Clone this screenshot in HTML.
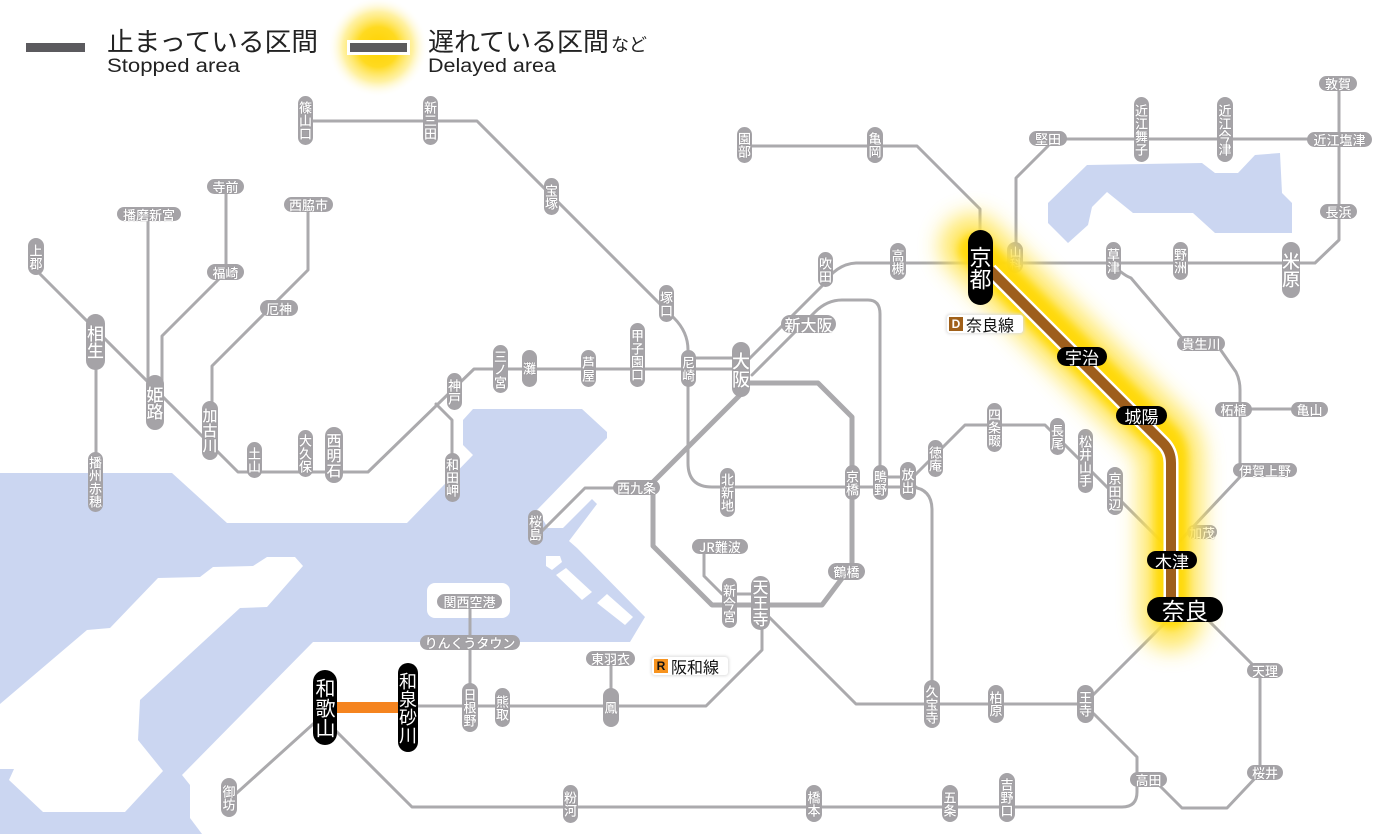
<!DOCTYPE html>
<html><head><meta charset="utf-8"><style>
html,body{margin:0;padding:0;background:#fff}
#c{position:relative;width:1400px;height:834px;overflow:hidden;background:#fff;font-family:"Liberation Sans","Noto Sans CJK JP",sans-serif}
svg{position:absolute;left:0;top:0}
.p{position:absolute;display:flex;align-items:center;justify-content:center;background:#a5a3a7;color:#fff;font-family:"Noto Sans CJK JP",sans-serif;font-weight:500;font-size:13px;line-height:1;border-radius:999px;white-space:nowrap;text-shadow:0 0 1px #7a787c}
.v{writing-mode:vertical-rl;text-orientation:upright}
.b{background:#000;text-shadow:none;font-weight:400}
.lab{position:absolute;background:#fff;box-shadow:0 0 3px 1px #ddd;border-radius:3px;display:flex;align-items:center;font-family:"Noto Sans CJK JP",sans-serif;font-size:16px;line-height:1;color:#111}
.lab i{font-style:normal;font-family:"Liberation Sans",sans-serif;font-weight:bold;font-size:12px;width:14px;height:14px;display:flex;align-items:center;justify-content:center;margin:0 3px 0 2px}
</style></head><body><div id="c">
<svg width="1400" height="834" viewBox="0 0 1400 834">
<polygon fill="#cbd6f1" points="0,473 172,473 227,523 407,523 473,455 463,445 463,420 473,409 582,409 607,432 607,438 537,510 548,528 563,528 592,499 597,504 569,541 577,548 645,617 630,642 313,642 182,775 190,785 190,818 202,834 0,834"/>
<polygon fill="#fff" points="0,704 87,630 110,628 158,578 200,577 213,567 253,566 267,557 295,557 303,566 267,607 240,608 140,700 138,740 163,771 125,812 43,812 9,780 14,769 0,769"/>
<polygon fill="#fff" points="546,556 560,556 562,562 552,570 546,566"/>
<polygon fill="#fff" points="556,575 566,568 592,592 582,600"/>
<polygon fill="#fff" points="597,603 607,594 633,617 625,625"/>
<rect x="427" y="583" width="83" height="35" rx="8" fill="#fff"/>
<polygon fill="#cbd6f1" points="1087,165 1202,163 1215,173 1238,173 1255,155 1280,153 1282,193 1292,203 1292,233 1215,233 1193,213 1133,213 1107,192 1092,207 1088,225 1068,243 1048,223 1048,203"/>
<g fill="none" stroke="#abaaad" stroke-width="3" stroke-linejoin="round" stroke-linecap="round">
<path d="M36,270 L238,472 H368 L474,369 H741"/>
<path d="M436,404 L452,420 V460"/>
<path d="M148,214 V390"/>
<path d="M226,187 V272 L162,336 V390"/>
<path d="M308,204 V270 L212,366 V420"/>
<path d="M96,342 V470"/>
<path d="M305,121 H477 L674,318 Q688,332 688,350 V463 Q688,487 712,487 H916"/>
<path d="M688,358 H741"/>
<path d="M745,363 L822,286 Q836,264 856,263 H1315 L1339,240 V83"/>
<path d="M752,375 L815,312 Q827,300 842,300 H868 Q880,300 880,314 V487"/>
<path d="M880,477 H908"/>
<path d="M637,488 H585 L540,533"/>
<path d="M704,547 V576 L722,594 H760"/>
<path d="M765,613 L856,704 H1085"/>
<path d="M762,630 V650 L706,706 H337"/>
<path d="M470,601 V707"/>
<path d="M611,658 V707"/>
<path d="M325,720 L412,807 H1122 Q1137,807 1137,792 V757 L1094,714"/>
<path d="M322,716 L229,800"/>
<path d="M1176,612 L1087,701"/>
<path d="M1200,612 L1260,672 V773 L1227,808 H1182 L1150,776"/>
<path d="M912,487 Q932,489 932,510 V704"/>
<path d="M913,477 L965,425 H1045 L1172,552"/>
<path d="M1121,272 Q1126,276 1131,278 L1182,338 L1220,349 L1236,372 Q1240,380 1240,390 V477 L1176,545"/>
<path d="M1240,409 H1300"/>
<path d="M745,146 H917 L980,209 V235"/>
<path d="M1016,258 V178 L1048,146"/>
<path d="M1048,139 H1339"/>
</g>
<path d="M741,383 H818 L852,417 V565 L822,605 H712 L653,546 V482 L741,394" fill="none" stroke="#abaaad" stroke-width="5" stroke-linejoin="round"/>
<rect x="337" y="702" width="61" height="11" fill="#f5841f"/>
<defs>
<radialGradient id="lg"><stop offset="0" stop-color="#ffd200"/><stop offset="0.4" stop-color="#ffda20"/><stop offset="0.7" stop-color="#ffe866" stop-opacity="0.6"/><stop offset="1" stop-color="#fff" stop-opacity="0"/></radialGradient>
</defs>
<circle cx="378" cy="47" r="50" fill="url(#lg)"/>
<rect x="26" y="43" width="59" height="9" fill="#5b5a5e"/>
<rect x="347" y="40" width="63" height="15" fill="#fff"/>
<rect x="350" y="43" width="57" height="9" fill="#5b5a5e"/>
<g fill="#222" font-family="'Liberation Sans','Noto Sans CJK JP',sans-serif">
<text x="107" y="51" font-size="26" textLength="211" lengthAdjust="spacingAndGlyphs">止まっている区間</text>
<text x="107" y="72" font-size="19" textLength="133" lengthAdjust="spacingAndGlyphs">Stopped area</text>
<text x="428" y="51" font-size="26" textLength="181" lengthAdjust="spacingAndGlyphs">遅れている区間</text>
<text x="611" y="51" font-size="18">など</text>
<text x="428" y="72" font-size="19" textLength="128" lengthAdjust="spacingAndGlyphs">Delayed area</text>
</g>
</svg>

<div class="p v" style="left:298px;top:96px;width:15px;height:49px">篠山口</div>
<div class="p v" style="left:423px;top:96px;width:15px;height:49px">新三田</div>
<div class="p v" style="left:28px;top:238px;width:16px;height:37px">上郡</div>
<div class="p v" style="left:247px;top:442px;width:15px;height:36px">土山</div>
<div class="p v" style="left:298px;top:430px;width:15px;height:47px">大久保</div>
<div class="p v" style="left:325px;top:427px;width:18px;height:56px;font-size:15px">西明石</div>
<div class="p v" style="left:88px;top:452px;width:15px;height:60px">播州赤穂</div>
<div class="p v" style="left:544px;top:178px;width:15px;height:37px">宝塚</div>
<div class="p v" style="left:659px;top:285px;width:15px;height:37px">塚口</div>
<div class="p v" style="left:681px;top:350px;width:15px;height:37px">尼崎</div>
<div class="p v" style="left:630px;top:323px;width:15px;height:64px">甲子園口</div>
<div class="p v" style="left:581px;top:350px;width:15px;height:37px">芦屋</div>
<div class="p v" style="left:522px;top:350px;width:15px;height:37px">灘</div>
<div class="p v" style="left:493px;top:345px;width:15px;height:48px">三ノ宮</div>
<div class="p v" style="left:447px;top:373px;width:15px;height:37px">神戸</div>
<div class="p v" style="left:445px;top:453px;width:15px;height:49px">和田岬</div>
<div class="p v" style="left:737px;top:127px;width:15px;height:36px">園部</div>
<div class="p v" style="left:867px;top:127px;width:16px;height:36px">亀岡</div>
<div class="p v" style="left:818px;top:252px;width:15px;height:35px">吹田</div>
<div class="p v" style="left:890px;top:243px;width:16px;height:37px">高槻</div>
<div class="p v" style="left:1007px;top:242px;width:16px;height:31px;font-size:12px">山科</div>
<div class="p v" style="left:1106px;top:242px;width:15px;height:38px">草津</div>
<div class="p v" style="left:1173px;top:242px;width:15px;height:38px">野洲</div>
<div class="p v" style="left:1134px;top:97px;width:15px;height:65px">近江舞子</div>
<div class="p v" style="left:1217px;top:97px;width:16px;height:65px">近江今津</div>
<div class="p v" style="left:720px;top:468px;width:15px;height:49px">北新地</div>
<div class="p v" style="left:845px;top:465px;width:15px;height:35px">京橋</div>
<div class="p v" style="left:873px;top:465px;width:15px;height:35px">鴫野</div>
<div class="p v" style="left:900px;top:462px;width:16px;height:38px">放出</div>
<div class="p v" style="left:928px;top:440px;width:15px;height:37px">徳庵</div>
<div class="p v" style="left:987px;top:403px;width:15px;height:49px">四条畷</div>
<div class="p v" style="left:1050px;top:418px;width:15px;height:37px">長尾</div>
<div class="p v" style="left:1078px;top:429px;width:15px;height:64px">松井山手</div>
<div class="p v" style="left:1107px;top:467px;width:16px;height:48px">京田辺</div>
<div class="p v" style="left:528px;top:510px;width:15px;height:35px">桜島</div>
<div class="p v" style="left:722px;top:578px;width:15px;height:50px">新今宮</div>
<div class="p v" style="left:924px;top:680px;width:16px;height:48px">久宝寺</div>
<div class="p v" style="left:988px;top:685px;width:16px;height:38px">柏原</div>
<div class="p v" style="left:1077px;top:685px;width:17px;height:38px">王寺</div>
<div class="p v" style="left:999px;top:773px;width:16px;height:49px">吉野口</div>
<div class="p v" style="left:942px;top:785px;width:16px;height:37px">五条</div>
<div class="p v" style="left:806px;top:785px;width:16px;height:37px">橋本</div>
<div class="p v" style="left:563px;top:785px;width:15px;height:38px">粉河</div>
<div class="p v" style="left:462px;top:683px;width:16px;height:49px">日根野</div>
<div class="p v" style="left:495px;top:688px;width:15px;height:39px">熊取</div>
<div class="p v" style="left:603px;top:688px;width:16px;height:39px">鳳</div>
<div class="p v" style="left:221px;top:778px;width:16px;height:39px">御坊</div>

<div class="p v" style="left:86px;top:314px;width:19px;height:56px;font-size:17px">相生</div>
<div class="p v" style="left:146px;top:375px;width:18px;height:55px;font-size:17px">姫路</div>
<div class="p v" style="left:202px;top:401px;width:16px;height:59px;font-size:15px">加古川</div>
<div class="p v" style="left:732px;top:342px;width:18px;height:55px;font-size:18px">大阪</div>
<div class="p v" style="left:1282px;top:242px;width:18px;height:56px;font-size:18px">米原</div>
<div class="p v" style="left:751px;top:576px;width:19px;height:54px;font-size:16px">天王寺</div>

<div class="p" style="left:207px;top:179px;width:37px;height:15px">寺前</div>
<div class="p" style="left:284px;top:197px;width:49px;height:15px">西脇市</div>
<div class="p" style="left:117px;top:207px;width:64px;height:14px">播磨新宮</div>
<div class="p" style="left:207px;top:264px;width:37px;height:16px">福崎</div>
<div class="p" style="left:260px;top:300px;width:38px;height:16px">厄神</div>
<div class="p" style="left:781px;top:315px;width:55px;height:18px;font-size:16px">新大阪</div>
<div class="p" style="left:1029px;top:131px;width:38px;height:15px">堅田</div>
<div class="p" style="left:1307px;top:132px;width:65px;height:15px">近江塩津</div>
<div class="p" style="left:1319px;top:76px;width:38px;height:15px">敦賀</div>
<div class="p" style="left:1320px;top:204px;width:37px;height:15px">長浜</div>
<div class="p" style="left:1177px;top:336px;width:48px;height:15px">貴生川</div>
<div class="p" style="left:1215px;top:402px;width:37px;height:15px">柘植</div>
<div class="p" style="left:1291px;top:402px;width:37px;height:15px">亀山</div>
<div class="p" style="left:1233px;top:463px;width:64px;height:14px">伊賀上野</div>
<div class="p" style="left:1187px;top:525px;width:30px;height:14px">加茂</div>
<div class="p" style="left:613px;top:480px;width:47px;height:15px">西九条</div>
<div class="p" style="left:828px;top:563px;width:37px;height:17px">鶴橋</div>
<div class="p" style="left:692px;top:539px;width:56px;height:15px">JR難波</div>
<div class="p" style="left:1247px;top:663px;width:36px;height:15px">天理</div>
<div class="p" style="left:1247px;top:765px;width:36px;height:15px">桜井</div>
<div class="p" style="left:1130px;top:772px;width:37px;height:15px">高田</div>
<div class="p" style="left:437px;top:594px;width:65px;height:15px">関西空港</div>
<div class="p" style="left:420px;top:635px;width:100px;height:15px">りんくうタウン</div>
<div class="p" style="left:586px;top:651px;width:49px;height:15px">東羽衣</div>

<svg width="1400" height="834" viewBox="0 0 1400 834">
<defs>
<filter id="g1" x="-50%" y="-50%" width="200%" height="200%"><feGaussianBlur stdDeviation="11"/></filter>
<filter id="g2" x="-50%" y="-50%" width="200%" height="200%"><feGaussianBlur stdDeviation="4"/></filter>
</defs>
<path d="M972,246 L1163,437 Q1171,445 1171,460 V618" fill="none" stroke="#ffe555" stroke-width="64" stroke-linecap="round" filter="url(#g1)" opacity="0.9"/>
<path d="M975,250 L1163,438 Q1171,446 1171,460 V612" fill="none" stroke="#ffd800" stroke-width="34" stroke-linecap="round" filter="url(#g2)" opacity="0.88"/>
<path d="M990,270 L1163,443 Q1171,451 1171,463 V605" fill="none" stroke="#fff" stroke-width="15"/>
<path d="M990,270 L1163,443 Q1171,451 1171,463 V605" fill="none" stroke="#9e5e1c" stroke-width="10"/>
</svg>

<div class="p v b" style="left:968px;top:230px;width:25px;height:75px;font-size:22px">京都</div>
<div class="p v b" style="left:313px;top:670px;width:24px;height:75px;font-size:20px">和歌山</div>
<div class="p v b" style="left:398px;top:663px;width:20px;height:89px;font-size:18px">和泉砂川</div>
<div class="p b" style="left:1057px;top:347px;width:50px;height:19px;font-size:17px">宇治</div>
<div class="p b" style="left:1116px;top:406px;width:51px;height:19px;font-size:17px">城陽</div>
<div class="p b" style="left:1147px;top:551px;width:50px;height:18px;font-size:17px">木津</div>
<div class="p b" style="left:1147px;top:597px;width:76px;height:25px;font-size:23px">奈良</div>

<div class="lab" style="left:947px;top:315px;width:76px;height:18px"><i style="background:#a0601a;color:#fff">D</i>奈良線</div>
<div class="lab" style="left:652px;top:657px;width:76px;height:18px"><i style="background:#f7931e;color:#111">R</i>阪和線</div>
</div></body></html>
